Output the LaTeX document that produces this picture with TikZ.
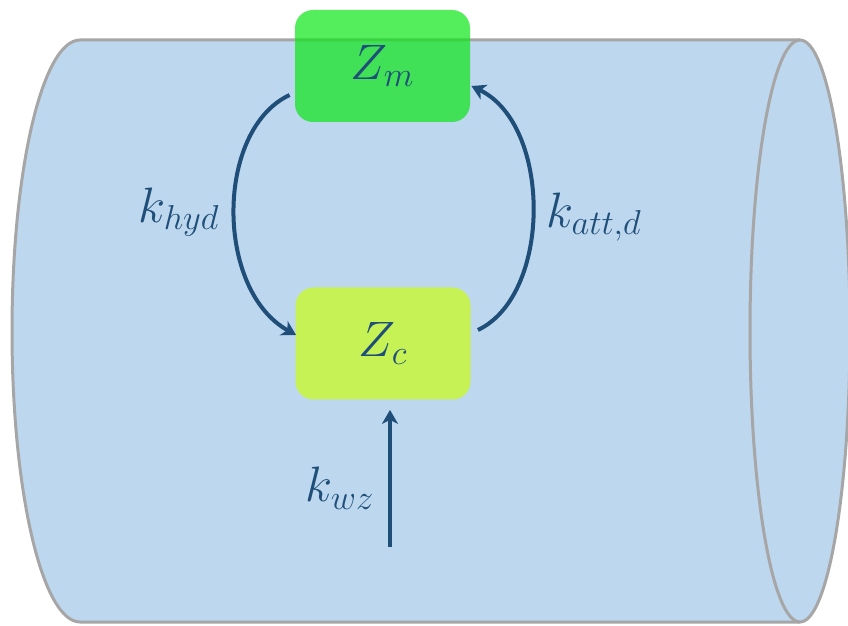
\documentclass[tikz,border=0pt]{standalone}
\usetikzlibrary{arrows.meta}
\definecolor{cylfill}{RGB}{189,215,238}
\definecolor{cylline}{RGB}{166,166,166}
\definecolor{zmgreen}{RGB}{12,230,22}
\definecolor{zcgreen}{RGB}{198,242,86}
\definecolor{arrowblue}{RGB}{31,78,121}
\tikzset{
  box/.style={rounded corners=9pt, minimum width=87.5pt, minimum height=56pt, inner sep=0pt, text=arrowblue, font=\fontsize{23}{27}\selectfont},
  flow/.style={draw=arrowblue, line width=2pt, -{Stealth[length=7pt,width=8pt,inset=2pt]}},
  lbl/.style={text=arrowblue, font=\fontsize{23}{27}\selectfont, inner sep=0pt}
}
\begin{document}
\begin{tikzpicture}[x=0.5pt,y=0.5pt]
\useasboundingbox (0,0) rectangle (848,-626);
% cylinder body
\fill[cylfill] (80,-40) -- (800,-40) arc[start angle=90,end angle=-90,x radius=50,y radius=291]
  -- (80,-622) arc[start angle=270,end angle=90,x radius=68,y radius=291] -- cycle;
\draw[cylline, line width=1.5pt] (800,-40) -- (80,-40) arc[start angle=90,end angle=270,x radius=68,y radius=291] -- (800,-622);
\draw[cylline, line width=1.5pt] (800,-331) ellipse[x radius=50,y radius=291];
% boxes
\node[box, fill=zmgreen, fill opacity=0.7, text opacity=1] (zm) at (382.5,-66) {$Z_m$};
\node[box, fill=zcgreen] (zc) at (383,-343.5) {$Z_c$};
% connectors
\draw[flow] ([shift={(-5,-29)}]zm.west) .. controls (215,-130) and (215,-290) .. ([shift={(1,8.5)}]zc.west);
\draw[flow] ([shift={(7,13.5)}]zc.east) .. controls (552,-295) and (552,-125) .. ([shift={(1,-20)}]zm.east);
\coordinate (wz) at (390,-547);
\draw[flow] (wz) -- ([shift={(7,-10)}]zc.south);
% labels
\node[lbl] (khyd) at (179,-212) {$k_{hyd}$};
\node[lbl] (katt) at (594,-217) {$k_{att,d}$};
\node[lbl] (kwz) at (340,-488) {$k_{wz}$};
\end{tikzpicture}
\end{document}
